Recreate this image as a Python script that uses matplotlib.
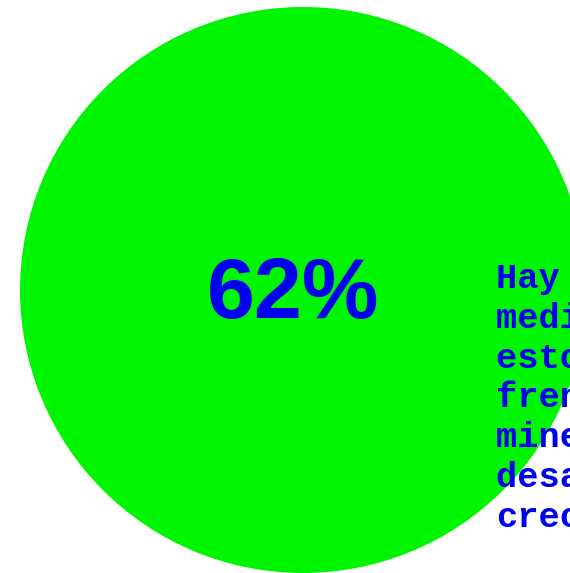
import matplotlib
matplotlib.use("Agg")
import matplotlib.pyplot as plt
from matplotlib.patches import Circle

# data
percent = 62
label_lines = ["Hay que tomar", "medidas ante", "estos nuevos", "frentes de la",
               "minería para el", "desarrollo y el", "crecimiento"]

W, H = 570, 573
fig = plt.figure(figsize=(W / 100, H / 100), dpi=100)
ax = fig.add_axes([0, 0, 1, 1])
ax.set_xlim(0, W)
ax.set_ylim(H, 0)
ax.axis("off")

green = "#00f500"
blue = "#0000f0"

ax.add_patch(Circle((303, 290), 283, facecolor=green, edgecolor="none"))

ax.text(293, 318, f"{percent}%", family=["Liberation Sans", "DejaVu Sans"], weight="bold",
        fontsize=62, color=blue, ha="center", va="baseline")

x0, y0, dy = 496, 288, 39.8
for i, line in enumerate(label_lines):
    ax.text(x0, y0 + i * dy, line, family=["Liberation Mono", "DejaVu Sans Mono"],
            weight="bold", fontsize=25.5, color=blue, ha="left", va="baseline")

fig.savefig("out.png", dpi=100)
